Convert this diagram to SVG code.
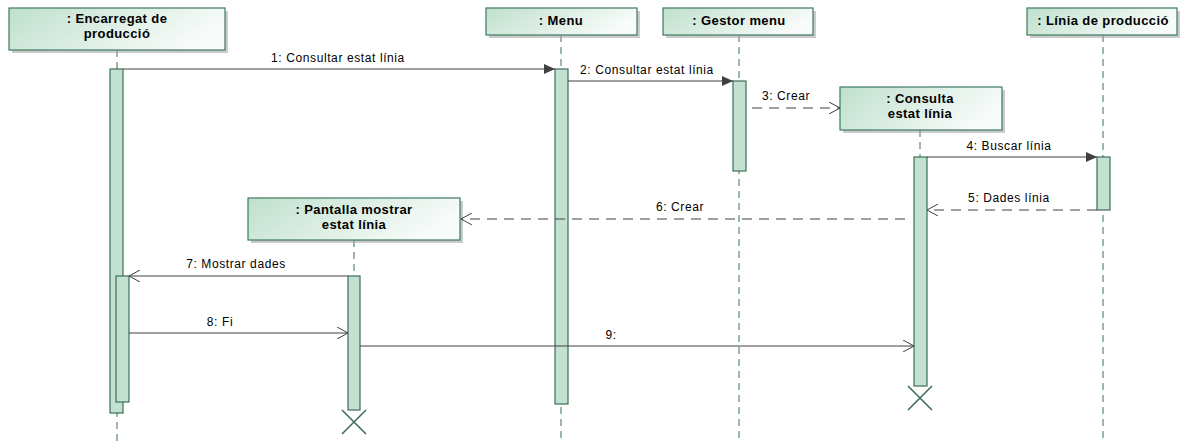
<svg xmlns="http://www.w3.org/2000/svg" width="1182" height="441" viewBox="0 0 1182 441">
<style>
.box{fill:url(#g);stroke:#3d7a5f;stroke-width:1.2}
.sh{fill:#a8a8a8;opacity:0.6}
.ttl{font-family:"Liberation Sans",Arial,sans-serif;font-size:13px;font-weight:bold;fill:#000;text-anchor:middle;letter-spacing:0.4px}
.life{stroke:#3d6e58;stroke-width:1;stroke-dasharray:7,5;fill:none}
.act{fill:#c2e1d0;stroke:#3d6e58;stroke-width:1.2}
.msg{stroke:#404040;stroke-width:1;fill:none}
.dash{stroke:#404040;stroke-width:1;fill:none;stroke-dasharray:10,7}
.lbl{font-family:"Liberation Sans",Arial,sans-serif;font-size:12px;fill:#000;text-anchor:middle;letter-spacing:0.6px}
.x{stroke:#3d6e58;stroke-width:1.6;fill:none}
</style>
<defs>
<linearGradient id="g" x1="0" y1="0" x2="1" y2="0.3">
<stop offset="0" stop-color="#bfe0cd"/>
<stop offset="1" stop-color="#f7fbf9"/>
</linearGradient>
<marker id="fa" markerWidth="12" markerHeight="10" refX="11" refY="5" orient="auto" markerUnits="userSpaceOnUse">
<path d="M0,0 L11,5 L0,10 Z" fill="#404040"/>
</marker>
<marker id="oa" markerWidth="12" markerHeight="12" refX="11" refY="6" orient="auto" markerUnits="userSpaceOnUse">
<path d="M0,0 L11,6 L0,12" fill="none" stroke="#404040" stroke-width="1"/>
</marker>
</defs>
<rect width="1182" height="441" fill="#fff"/>

<g id="lifelines">
<line class="life" x1="117" y1="50" x2="117" y2="441"/>
<line class="life" x1="561" y1="35" x2="561" y2="441"/>
<line class="life" x1="739" y1="35" x2="739" y2="441"/>
<line class="life" x1="920" y1="130" x2="920" y2="386"/>
<line class="life" x1="1103" y1="35" x2="1103" y2="441"/>
<line class="life" x1="354" y1="240" x2="354" y2="410"/>
</g>

<g id="n-encarregat">
<rect class="sh" x="12" y="11" width="216" height="42"/>
<rect class="box" x="9" y="8" width="216" height="42"/>
<text class="ttl" x="117" y="23">: Encarregat de</text>
<text class="ttl" x="117" y="38">producció</text>
<rect class="act" x="110" y="69" width="13" height="344"/>
<rect class="act" x="116" y="276" width="13" height="126"/>
</g>

<g id="n-menu">
<rect class="sh" x="489" y="11" width="151" height="27"/>
<rect class="box" x="486" y="8" width="151" height="27"/>
<text class="ttl" x="561" y="25">: Menu</text>
<rect class="act" x="555" y="69" width="13" height="335"/>
</g>

<g id="n-gestor">
<rect class="sh" x="666" y="11" width="150" height="27"/>
<rect class="box" x="663" y="8" width="150" height="27"/>
<text class="ttl" x="739" y="25">: Gestor menu</text>
<rect class="act" x="733" y="81" width="13" height="90"/>
</g>

<g id="n-consulta">
<rect class="sh" x="843" y="90" width="162" height="43"/>
<rect class="box" x="840" y="87" width="162" height="43"/>
<text class="ttl" x="920" y="103">: Consulta</text>
<text class="ttl" x="920" y="118">estat línia</text>
<rect class="act" x="914" y="157" width="13" height="229"/>
<path class="x" d="M908,386 L932,410 M932,386 L908,410"/>
</g>

<g id="n-linia">
<rect class="sh" x="1030" y="11" width="150" height="27"/>
<rect class="box" x="1027" y="8" width="150" height="27"/>
<text class="ttl" x="1103" y="25">: Línia de producció</text>
<rect class="act" x="1097" y="157" width="13" height="53"/>
</g>

<g id="n-pantalla">
<rect class="sh" x="251" y="201" width="212" height="42"/>
<rect class="box" x="248" y="198" width="212" height="42"/>
<text class="ttl" x="354" y="214">: Pantalla mostrar</text>
<text class="ttl" x="354" y="229">estat línia</text>
<rect class="act" x="348" y="276" width="12" height="134"/>
<path class="x" d="M342,410 L366,434 M366,410 L342,434"/>
</g>

<g id="connectors">
<line class="msg" x1="123" y1="69" x2="555" y2="69" marker-end="url(#fa)"/>
<text class="lbl" x="338" y="62">1: Consultar estat línia</text>
<line class="msg" x1="568" y1="81" x2="733" y2="81" marker-end="url(#fa)"/>
<text class="lbl" x="647" y="74">2: Consultar estat línia</text>
<line class="dash" x1="752" y1="108" x2="840" y2="108" marker-end="url(#oa)"/>
<text class="lbl" x="786" y="100">3: Crear</text>
<line class="msg" x1="927" y1="157" x2="1097" y2="157" marker-end="url(#fa)"/>
<text class="lbl" x="1009" y="150">4: Buscar línia</text>
<line class="dash" x1="1097" y1="210" x2="927" y2="210" marker-end="url(#oa)"/>
<text class="lbl" x="1009" y="202">5: Dades línia</text>
<line class="dash" x1="905" y1="219" x2="461" y2="219" marker-end="url(#oa)"/>
<text class="lbl" x="680" y="211">6: Crear</text>
<line class="msg" x1="348" y1="276" x2="129" y2="276" marker-end="url(#oa)"/>
<text class="lbl" x="236" y="268">7: Mostrar dades</text>
<line class="msg" x1="129" y1="333" x2="348" y2="333" marker-end="url(#oa)"/>
<text class="lbl" x="220" y="326">8: Fi</text>
<line class="msg" x1="360" y1="346" x2="914" y2="346" marker-end="url(#oa)"/>
<text class="lbl" x="611" y="339">9:</text>
</g>
</svg>
